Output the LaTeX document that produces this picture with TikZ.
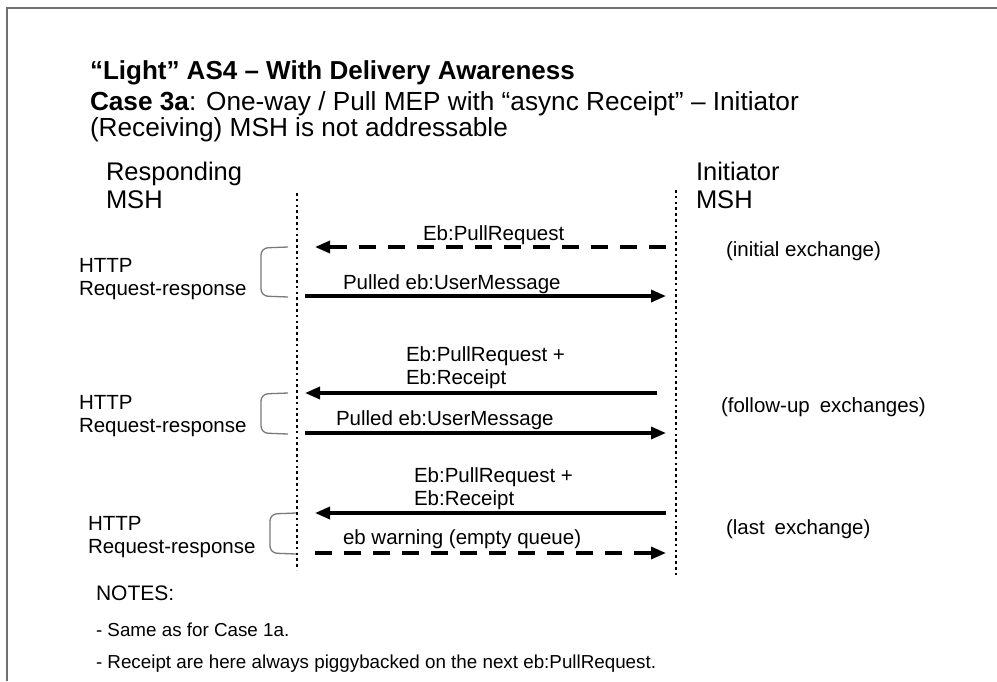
\documentclass[tikz,border=0pt]{standalone}
\usepackage{fontspec}
\setmainfont{Liberation Sans}
\usetikzlibrary{arrows.meta}
\definecolor{framegray}{HTML}{707070}
\definecolor{bracegray}{HTML}{7A7A7A}
\tikzset{
  txt/.style={anchor=base west, inner sep=0pt, outer sep=0pt},
  headline/.style={txt, font=\fontsize{26}{30}\selectfont\bfseries},
  subline/.style={txt, font=\fontsize{26.2}{30}\selectfont},
  party/.style={txt, font=\fontsize{25.5}{30}\selectfont},
  lbl/.style={txt, font=\fontsize{20.5}{24}\selectfont},
  note/.style={txt, font=\fontsize{18.8}{22}\selectfont},
  msg/.style={line width=3.3pt, -{Triangle[length=15pt,width=12pt]}},
  dashmsg/.style={msg, dash pattern=on 17pt off 12pt},
  lifeline/.style={line width=2.6pt, dash pattern=on 2.6pt off 3.2pt},
  bracket/.style={draw=bracegray, line width=1.3pt, rounded corners=7pt},
}
\begin{document}
\begin{tikzpicture}[x=1pt, y=-1pt]
\useasboundingbox (0,0) rectangle (997,681);

% outer frame (top and left edges)
\draw[framegray, line width=2.5pt] (7,681) -- (7,8) -- (997,8);

% headings
\node[headline] (title) at (90,79) {“Light” AS4 – With Delivery Awareness};
\node[subline] (case1) at (90,110) {\textbf{Case 3a}: One-way / Pull MEP with “async Receipt” – Initiator};
\node[subline] (case2) at (90,136) {(Receiving) MSH is not addressable};

% parties
\node[party] (resp1) at (106,180) {Responding};
\node[party] (resp2) at (106,208) {MSH};
\node[party] (init1) at (696,180) {Initiator};
\node[party] (init2) at (696,208) {MSH};

% lifelines
\coordinate (Ltop) at (297,193);
\coordinate (Lbot) at (297,570);
\coordinate (Rtop) at (676,190);
\coordinate (Rbot) at (676,575);
\draw[lifeline] (Ltop) -- (Lbot);
\draw[lifeline] (Rtop) -- (Rbot);

% initial exchange
\coordinate (m1s) at (666,247); \coordinate (m1e) at (315,247);
\coordinate (m2s) at (305,296); \coordinate (m2e) at (666,296);
\draw[dashmsg] (m1s) -- (m1e);
\draw[msg] (m2s) -- (m2e);
\node[lbl] (l1) at (423,240) {Eb:PullRequest};
\node[lbl] (l2) at (343,289) {Pulled eb:UserMessage};
\draw[bracket] (288,247) -- (261,248) -- (261,296) -- (288,297);
\node[lbl] (h1a) at (79,272) {HTTP};
\node[lbl] (h1b) at (79,295) {Request-response};
\node[lbl] (c1) at (726,256) {(initial exchange)};

% follow-up exchanges
\coordinate (m3s) at (657,393); \coordinate (m3e) at (305,393);
\coordinate (m4s) at (305,433); \coordinate (m4e) at (666,433);
\draw[msg] (m3s) -- (m3e);
\draw[msg] (m4s) -- (m4e);
\node[lbl] (l3a) at (406,361) {Eb:PullRequest +};
\node[lbl] (l3b) at (406,384) {Eb:Receipt};
\node[lbl] (l4) at (336,425) {Pulled eb:UserMessage};
\draw[bracket] (288,393) -- (261,394) -- (261,433) -- (288,434);
\node[lbl] (h2a) at (79,409) {HTTP};
\node[lbl] (h2b) at (79,432) {Request-response};
\node[lbl] (c2) at (721,412) {(follow-up\hspace{10pt}exchanges)};

% last exchange
\coordinate (m5s) at (666,513); \coordinate (m5e) at (315,513);
\coordinate (m6s) at (315,553); \coordinate (m6e) at (666,553);
\draw[msg] (m5s) -- (m5e);
\draw[dashmsg] (m6s) -- (m6e);
\node[lbl] (l5a) at (414,482) {Eb:PullRequest +};
\node[lbl] (l5b) at (414,505) {Eb:Receipt};
\node[lbl] (l6) at (343,544) {eb warning (empty queue)};
\draw[bracket] (296,513) -- (270,514) -- (270,553) -- (296,554);
\node[lbl] (h3a) at (88,530) {HTTP};
\node[lbl] (h3b) at (88,553) {Request-response};
\node[lbl] (c3) at (726,534) {(last\hspace{10pt}exchange)};

% notes
\node[note, font=\fontsize{21}{24}\selectfont] (n0) at (96,600) {NOTES:};
\node[note] (n1) at (96,636) {- Same as for Case 1a.};
\node[note] (n2) at (96,668) {- Receipt are here always piggybacked on the next eb:PullRequest.};
\end{tikzpicture}
\end{document}
